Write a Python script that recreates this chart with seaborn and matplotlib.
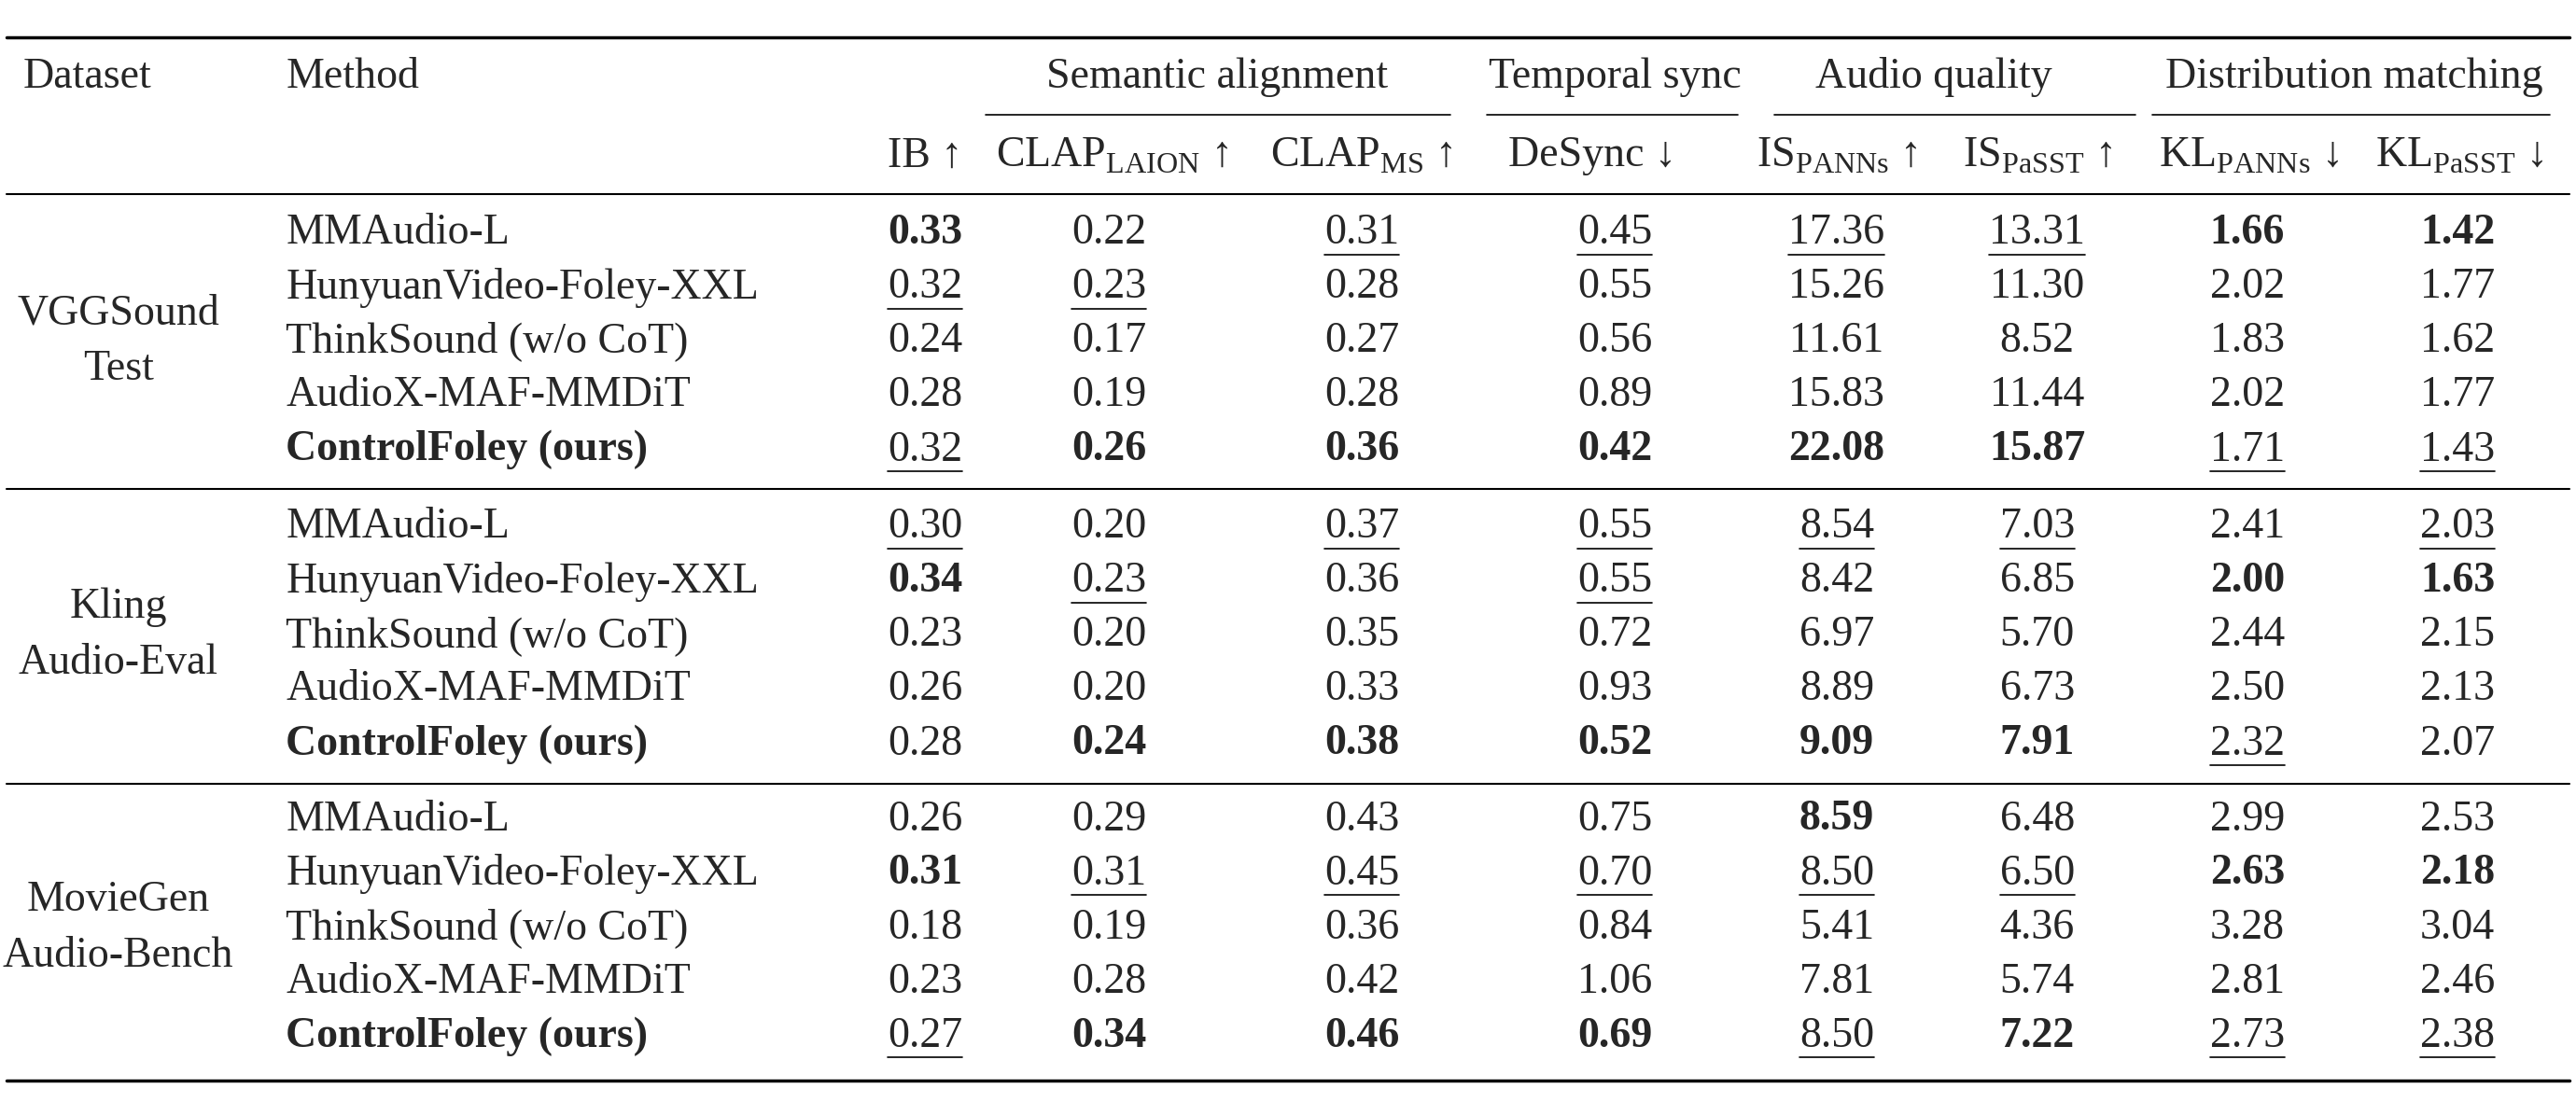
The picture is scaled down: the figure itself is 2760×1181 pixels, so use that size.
import matplotlib
matplotlib.use("Agg")
import matplotlib.pyplot as plt
import seaborn as sns

sns.set_theme(style="white")
plt.rcParams["font.family"] = ["Liberation Serif", "DejaVu Serif"]
plt.rcParams["mathtext.fontset"] = "custom"
plt.rcParams["mathtext.rm"] = "Liberation Serif"

datasets = [["VGGSound", "Test"], ["Kling", "Audio-Eval"], ["MovieGen", "Audio-Bench"]]
methods = ["MMAudio-L", "HunyuanVideo-Foley-XXL", "ThinkSound (w/o CoT)",
           "AudioX-MAF-MMDiT", "ControlFoley (ours)"]
col_labels = [r"IB ↑", r"CLAP$_{\mathrm{LAION}}$ ↑", r"CLAP$_{\mathrm{MS}}$ ↑", r"DeSync ↓",
              r"IS$_{\mathrm{PANNs}}$ ↑", r"IS$_{\mathrm{PaSST}}$ ↑",
              r"KL$_{\mathrm{PANNs}}$ ↓", r"KL$_{\mathrm{PaSST}}$ ↓"]
groups = ["Semantic alignment", "Temporal sync", "Audio quality", "Distribution matching"]

# values with marks: b = bold (best), u = underline (second)
values = [
    [["0.33b", "0.22", "0.31u", "0.45u", "17.36u", "13.31u", "1.66b", "1.42b"],
     ["0.32u", "0.23u", "0.28", "0.55", "15.26", "11.30", "2.02", "1.77"],
     ["0.24", "0.17", "0.27", "0.56", "11.61", "8.52", "1.83", "1.62"],
     ["0.28", "0.19", "0.28", "0.89", "15.83", "11.44", "2.02", "1.77"],
     ["0.32u", "0.26b", "0.36b", "0.42b", "22.08b", "15.87b", "1.71u", "1.43u"]],
    [["0.30u", "0.20", "0.37u", "0.55u", "8.54u", "7.03u", "2.41", "2.03u"],
     ["0.34b", "0.23u", "0.36", "0.55u", "8.42", "6.85", "2.00b", "1.63b"],
     ["0.23", "0.20", "0.35", "0.72", "6.97", "5.70", "2.44", "2.15"],
     ["0.26", "0.20", "0.33", "0.93", "8.89", "6.73", "2.50", "2.13"],
     ["0.28", "0.24b", "0.38b", "0.52b", "9.09b", "7.91b", "2.32u", "2.07"]],
    [["0.26", "0.29", "0.43", "0.75", "8.59b", "6.48", "2.99", "2.53"],
     ["0.31b", "0.31u", "0.45u", "0.70u", "8.50u", "6.50u", "2.63b", "2.18b"],
     ["0.18", "0.19", "0.36", "0.84", "5.41", "4.36", "3.28", "3.04"],
     ["0.23", "0.28", "0.42", "1.06", "7.81", "5.74", "2.81", "2.46"],
     ["0.27u", "0.34b", "0.46b", "0.69b", "8.50u", "7.22b", "2.73u", "2.38u"]],
]

W, H = 1568, 671
fig = plt.figure(figsize=(27.6, 11.81), dpi=100)
ax = fig.add_axes([0, 0, 1, 1])
ax.set_xlim(0, W)
ax.set_ylim(H, 0)
ax.axis("off")
fs = 33

col_x = [563, 677, 829, 969, 1118, 1240, 1369, 1497]
val_x = [563, 675, 829, 983, 1118, 1240, 1368, 1496]
group_x = [741, 983, 1177, 1433]
group_spans = [(600, 883), (905, 1058), (1080, 1300), (1310, 1552)]

ax.plot([4, W - 4], [23, 23], color="black", lw=2.5)
ax.plot([4, W - 4], [118, 118], color="black", lw=1.5)
ax.plot([4, W - 4], [298, 298], color="black", lw=1.5)
ax.plot([4, W - 4], [477, 477], color="black", lw=1.5)
ax.plot([4, W - 4], [658, 658], color="black", lw=2.5)
for x0, x1 in group_spans:
    ax.plot([x0, x1], [70, 70], color="black", lw=1.2)

ax.text(14, 47, "Dataset", fontsize=fs, va="center", ha="left")
ax.text(174, 47, "Method", fontsize=fs, va="center", ha="left")
for g, x in zip(groups, group_x):
    ax.text(x, 47, g, fontsize=fs, va="center", ha="center")
for c, x in zip(col_labels, col_x):
    ax.text(x, 95, c, fontsize=fs, va="center", ha="center")

underlines = []
row_y0 = [142, 321, 499]
for d, (name, y0) in enumerate(zip(datasets, row_y0)):
    mid = y0 + 2 * 33
    ax.text(72, mid - 17, name[0], fontsize=fs, va="center", ha="center")
    ax.text(72, mid + 17, name[1], fontsize=fs, va="center", ha="center")
    for r, m in enumerate(methods):
        y = y0 + r * 33
        ax.text(174, y, m, fontsize=fs, va="center", ha="left",
                fontweight="bold" if r == 4 else "normal")
        for c, v in enumerate(values[d][r]):
            mark = v[-1] if v[-1] in "bu" else ""
            txt = v.rstrip("bu")
            t = ax.text(val_x[c], y, txt, fontsize=fs, va="center", ha="center",
                        fontweight="bold" if mark == "b" else "normal")
            if mark == "u":
                underlines.append((t, y))

fig.canvas.draw()
inv = ax.transData.inverted()
for t, y in underlines:
    bb = t.get_window_extent()
    (x0, _), (x1, _) = inv.transform([(bb.x0, bb.y0), (bb.x1, bb.y1)])
    ax.plot([x0, x1], [y + 13, y + 13], color="black", lw=1.2)

fig.savefig("out.png", dpi=100)
